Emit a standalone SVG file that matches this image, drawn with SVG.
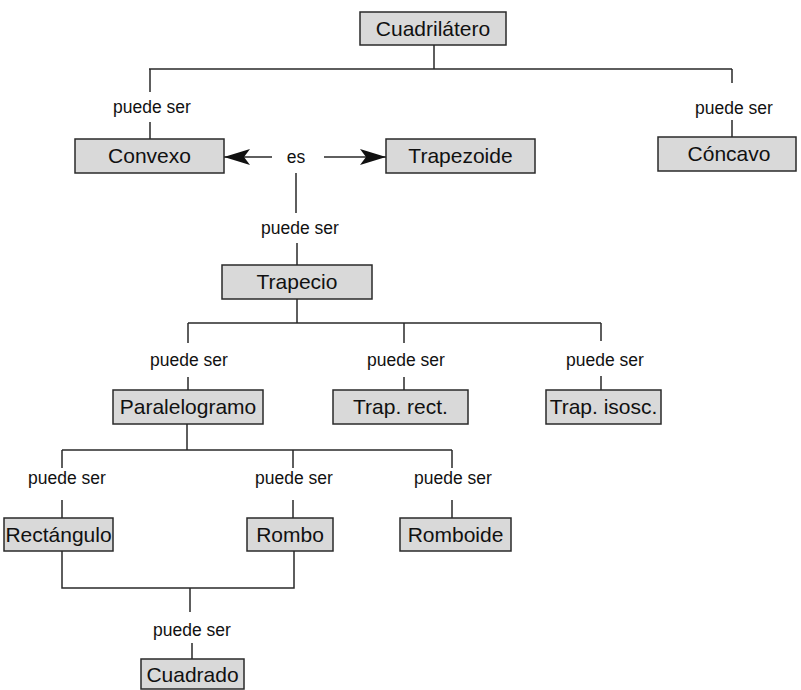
<svg xmlns="http://www.w3.org/2000/svg" width="801" height="690" viewBox="0 0 801 690">
  <defs>
    <style>
      .box rect { fill: #d9d9d9; stroke: #2a2a2a; stroke-width: 1.5; }
      .box text { font-family: "Liberation Sans", Arial, sans-serif; font-size: 21px; fill: #111; text-anchor: middle; }
      .lbl { font-family: "Liberation Sans", Arial, sans-serif; font-size: 17.5px; fill: #111; text-anchor: middle; }
      .conn path { fill: none; stroke: #2a2a2a; stroke-width: 1.5; }
    </style>
    <marker id="arrow" viewBox="0 0 26 16" markerWidth="26" markerHeight="16" refX="26" refY="8" markerUnits="userSpaceOnUse" orient="auto">
      <path d="M0,0 L26,8 L0,16 L6,8 z" fill="#111"/>
    </marker>
  </defs>

  <rect width="801" height="690" fill="#ffffff"/>

  <!-- connectors -->
  <g id="connectors" class="conn">
    <!-- Cuadrilátero branches -->
    <path d="M434,45 V69 M149,69 H732"/>
    <path d="M150,69 V92 M150,122 V139"/>
    <path d="M732,69 V83 M732,120 V137"/>
    <!-- "es" arrows -->
    <path d="M272,157 H224" marker-end="url(#arrow)"/>
    <path d="M324,157 H386" marker-end="url(#arrow)"/>
    <!-- es down to Trapecio -->
    <path d="M296,173 V213 M297,243 V265"/>
    <!-- Trapecio branches -->
    <path d="M297,299 V323 M188,323 H601"/>
    <path d="M188,323 V343 M188,377 V390"/>
    <path d="M404,323 V343 M404,377 V390"/>
    <path d="M601,323 V341 M601,376 V390"/>
    <!-- Paralelogramo branches -->
    <path d="M187,424 V450 M62,450 H452"/>
    <path d="M62,450 V468 M62,500 V518"/>
    <path d="M293,450 V468 M293,500 V518"/>
    <path d="M452,450 V468 M452,500 V518"/>
    <!-- Rectángulo + Rombo to Cuadrado -->
    <path d="M62,551 V588 H294 V551"/>
    <path d="M190,588 V612 M192,643 V659"/>
  </g>

  <!-- relation labels -->
  <g id="labels">
    <text class="lbl" x="152" y="113">puede ser</text>
    <text class="lbl" x="734" y="114">puede ser</text>
    <text class="lbl" x="296" y="163">es</text>
    <text class="lbl" x="300" y="234">puede ser</text>
    <text class="lbl" x="189" y="366">puede ser</text>
    <text class="lbl" x="406" y="366">puede ser</text>
    <text class="lbl" x="605" y="366">puede ser</text>
    <text class="lbl" x="67" y="484">puede ser</text>
    <text class="lbl" x="294" y="484">puede ser</text>
    <text class="lbl" x="453" y="484">puede ser</text>
    <text class="lbl" x="192" y="636">puede ser</text>
  </g>

  <!-- nodes -->
  <g id="cuadrilatero" class="box"><rect x="360" y="12" width="146" height="33"/><text x="433" y="36">Cuadrilátero</text></g>
  <g id="convexo" class="box"><rect x="75" y="139" width="149" height="34"/><text x="149.5" y="163">Convexo</text></g>
  <g id="trapezoide" class="box"><rect x="386" y="139" width="149" height="34"/><text x="460.5" y="163">Trapezoide</text></g>
  <g id="concavo" class="box"><rect x="658" y="137" width="138" height="34"/><text x="729" y="161">Cóncavo</text></g>
  <g id="trapecio" class="box"><rect x="222" y="265" width="150" height="34"/><text x="297" y="289">Trapecio</text></g>
  <g id="paralelogramo" class="box"><rect x="113" y="390" width="150" height="34"/><text x="188" y="414">Paralelogramo</text></g>
  <g id="trap-rect" class="box"><rect x="333" y="390" width="135" height="34"/><text x="400.5" y="414">Trap. rect.</text></g>
  <g id="trap-isosc" class="box"><rect x="546" y="390" width="115" height="34"/><text x="603.5" y="414">Trap. isosc.</text></g>
  <g id="rectangulo" class="box"><rect x="4" y="518" width="109" height="33"/><text x="58.5" y="542">Rectángulo</text></g>
  <g id="rombo" class="box"><rect x="247" y="518" width="86" height="33"/><text x="290" y="542">Rombo</text></g>
  <g id="romboide" class="box"><rect x="400" y="518" width="111" height="33"/><text x="455.5" y="542">Romboide</text></g>
  <g id="cuadrado" class="box"><rect x="141" y="659" width="103" height="30"/><text x="192.5" y="682">Cuadrado</text></g>
</svg>
